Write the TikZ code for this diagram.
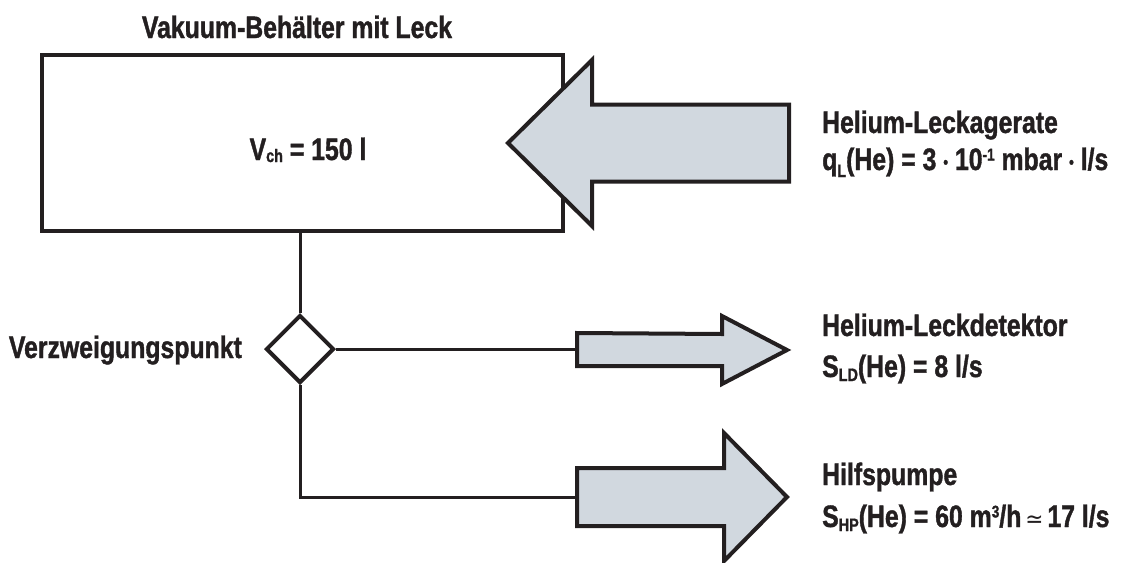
\documentclass[tikz,border=0pt]{standalone}
\usepackage{fontspec}
\setmainfont{Liberation Sans}[FakeStretch=0.8, BoldFeatures={FakeBold=1.2}]
\newfontfamily\dvfont{DejaVu Sans}[FakeStretch=0.9]
\usetikzlibrary{shapes.geometric}
\definecolor{ink}{RGB}{35,31,32}
\definecolor{arrfill}{RGB}{209,216,223}
\newcommand\lo[2][3pt]{\raisebox{-#1}{\fontsize{18}{18}\selectfont #2}}
\newcommand\hi[1]{\raisebox{9.5pt}{\fontsize{17}{17}\selectfont #1}}
\newcommand\mdot{\raisebox{2pt}{\fontsize{17}{17}\selectfont •}}
\begin{document}
\begin{tikzpicture}[x=1pt,y=-1pt,
  lbl/.style={font=\fontsize{31}{31}\selectfont\bfseries, text=ink, inner sep=0pt},
  conn/.style={draw=ink, line width=3pt},
  fat/.style={draw=ink, fill=arrfill, line width=4pt, line join=miter},
  vessel/.style={draw=ink, line width=4pt, rectangle, minimum width=521pt, minimum height=176pt, inner sep=0pt},
  branch/.style={draw=ink, line width=4pt, diamond, minimum width=68pt, minimum height=68pt, inner sep=0pt}]
\useasboundingbox (0,0) rectangle (1126,562);
% vessel
\node[vessel] (box) at (302.4,143) {};
\node[lbl, anchor=base] (title) at (297,38) {Vakuum-Behälter mit Leck};
\node[lbl, anchor=base] (vol) at (308,160) {V\lo[2pt]{ch} = 150 l};
% branch point
\node[branch] (dia) at (300,349) {};
\node[lbl, anchor=base east] (vp) at (242,358) {Verzweigungspunkt};
% connector end points
\coordinate (t2) at (577,349);
\coordinate (t3) at (577,497);
\draw[conn] (dia.north |- box.south) -- (dia.north);
\draw[conn] (dia.east) -- (t2);
\draw[conn] (dia.south) |- (t3);
% arrows
\draw[fat] (789,104.5) -- (592,104.5) -- (592,60) -- (508,143) -- (592,226) -- (592,181.5) -- (789,181.5) -- cycle;
\draw[fat] (t2) ++(0,-16) -- (722,334) -- (722,316) -- (787,350) -- (722,384) -- (722,366) -- (577,366) -- cycle;
\draw[fat] (t3) ++(0,-29) -- (724,468) -- (724,433) -- (787,497) -- (724,561) -- (724,526) -- (577,526) -- cycle;
% texts
\node[lbl, anchor=base west] (leak1) at (822,133) {Helium-Leckagerate};
\node[lbl, anchor=base west] (leak2) at (822,170) {q\lo[7pt]{L}(He) = 3 \mdot{} 10\hi{-1} mbar \mdot{} l/s};
\node[lbl, anchor=base west] (ld1) at (822,336) {Helium-Leckdetektor};
\node[lbl, anchor=base west] (ld2) at (822,377) {S\lo[4pt]{LD}(He) = 8 l/s};
\node[lbl, anchor=base west] (hp1) at (822,485) {Hilfspumpe};
\node[lbl, anchor=base west] (hp2) at (822,527) {S\lo[4pt]{HP}(He) = 60 m\hi{3}/h{\dvfont\mdseries\fontsize{24}{24}\selectfont\,≃\,}17 l/s};
\end{tikzpicture}
\end{document}
